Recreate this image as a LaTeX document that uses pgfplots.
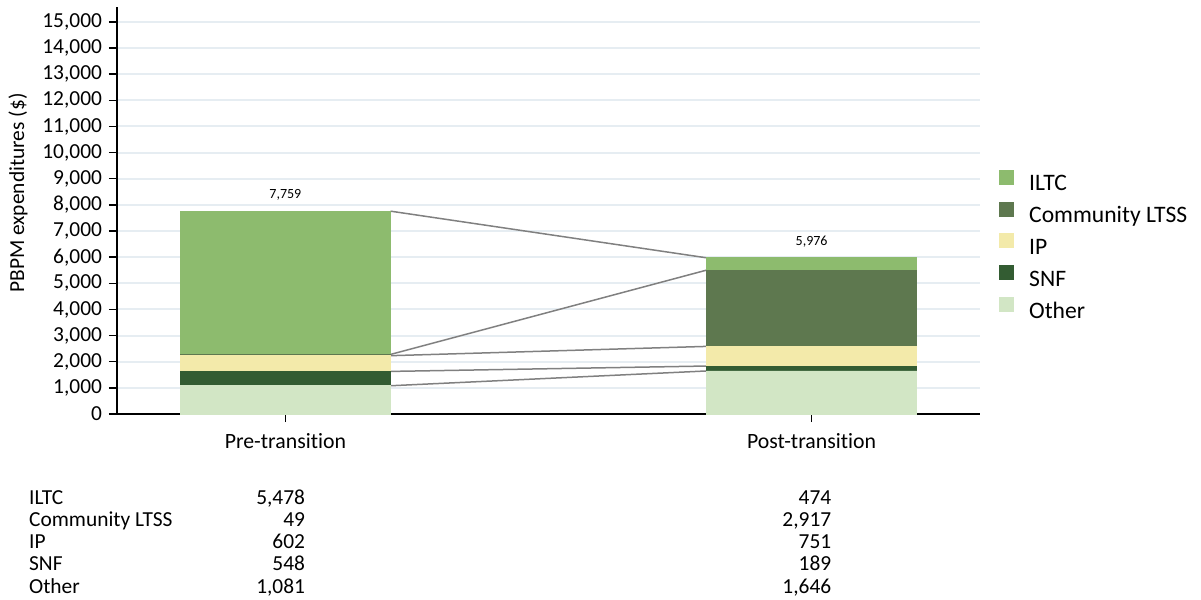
\documentclass[border=0pt]{standalone}
\usepackage{fontspec}
\setmainfont{Carlito}[Ligatures=NoCommon]
\usepackage{pgfplots}
\pgfplotsset{compat=1.18}

\definecolor{iltc}{HTML}{8DBB6E}
\definecolor{cltss}{HTML}{5E784F}
\definecolor{ipc}{HTML}{F3EAAA}
\definecolor{snf}{HTML}{335C32}
\definecolor{other}{HTML}{D2E6C5}
\definecolor{gridc}{HTML}{E6EDF2}
\definecolor{conn}{HTML}{808080}

\newcommand{\tabfont}{\fontsize{10.7}{12}\selectfont}
\tikzset{tablenode/.style={font=\tabfont, inner sep=0pt}}

\begin{document}
\begin{tikzpicture}
\path[use as bounding box] (-58.5pt,-93pt) rectangle (542pt,207pt);
\begin{axis}[
    at={(0,0)}, anchor=south west,
    scale only axis,
    width=431.5pt, height=203.5pt,
    xmin=-0.32, xmax=1.32,
    ymin=0, ymax=15570,
    ybar stacked,
    bar width=0.4,
    clip=false,
    axis lines=left,
    axis line style={-, line width=0.9pt},
    xtick={0,1},
    xticklabels={Pre-transition, Post-transition},
    ytick={0,1000,...,15000},
    scaled y ticks=false,
    tick align=outside,
    major tick length=4pt,
    tick style={black, line width=0.7pt},
    ymajorgrids=true,
    grid style={gridc, line width=1pt},
    /pgf/number format/.cd, 1000 sep={,}, assume math mode=true,
    /pgfplots/.cd,
    y tick label style={font=\tabfont},
    x tick label style={font=\fontsize{10.9}{12}\selectfont, yshift=-2pt},
    ylabel={PBPM expenditures (\$)},
    ylabel style={at={(axis description cs:-0.1147,0.543)}, anchor=center, font=\tabfont},
    legend style={at={(1.022,0.413)}, anchor=west, draw=none, fill=none,
        inner sep=0pt, font=\fontsize{11.8}{13}\selectfont, row sep=3.5pt,
        nodes={inner sep=0pt, text height=8.5pt, text depth=2pt},
        /tikz/every odd column/.style={column sep=7.5pt}},
    legend cell align=left,
    reverse legend,
    legend image code/.code={\fill[#1] (0pt,0pt) rectangle (7pt,7pt);},
]
% stacked segments, bottom to top
\addplot[fill=other, draw=other] coordinates {(0,1081) (1,1646)};
\addplot[fill=snf, draw=snf] coordinates {(0,548) (1,189)};
\addplot[fill=ipc, draw=ipc] coordinates {(0,602) (1,751)};
\addplot[fill=cltss, draw=cltss] coordinates {(0,49) (1,2917)};
\addplot[fill=iltc, draw=iltc] coordinates {(0,5478) (1,474)};
\legend{Other, SNF, IP, Community LTSS, ILTC}

% connectors between segment tops
\addplot[sharp plot, stack plots=false, forget plot, conn, line width=0.75pt, mark=none] coordinates {(0.2,7759) (0.8,5976)};
\addplot[sharp plot, stack plots=false, forget plot, conn, line width=0.75pt, mark=none] coordinates {(0.2,2280) (0.8,5502)};
\addplot[sharp plot, stack plots=false, forget plot, conn, line width=0.75pt, mark=none] coordinates {(0.2,2231) (0.8,2586)};
\addplot[sharp plot, stack plots=false, forget plot, conn, line width=0.75pt, mark=none] coordinates {(0.2,1629) (0.8,1835)};
\addplot[sharp plot, stack plots=false, forget plot, conn, line width=0.75pt, mark=none] coordinates {(0.2,1081) (0.8,1646)};

% totals
\node[font=\fontsize{7}{8}\selectfont, anchor=center, yshift=8pt] at (axis cs:0,7759) {7,759};
\node[font=\fontsize{7}{8}\selectfont, anchor=center, yshift=8pt] at (axis cs:1,5976) {5,976};

% table below the chart
\node[tablenode, anchor=base west] at (axis cs:-0.4877,-3480) {ILTC};
\node[tablenode, anchor=base west] at (axis cs:-0.4877,-4322) {Community LTSS};
\node[tablenode, anchor=base west] at (axis cs:-0.4877,-5164) {IP};
\node[tablenode, anchor=base west] at (axis cs:-0.4877,-6006) {SNF};
\node[tablenode, anchor=base west] at (axis cs:-0.4877,-6848) {Other};

\node[tablenode, anchor=base east] at (axis cs:0.038,-3480) {5,478};
\node[tablenode, anchor=base east] at (axis cs:0.038,-4322) {49};
\node[tablenode, anchor=base east] at (axis cs:0.038,-5164) {602};
\node[tablenode, anchor=base east] at (axis cs:0.038,-6006) {548};
\node[tablenode, anchor=base east] at (axis cs:0.038,-6848) {1,081};

\node[tablenode, anchor=base east] at (axis cs:1.038,-3480) {474};
\node[tablenode, anchor=base east] at (axis cs:1.038,-4322) {2,917};
\node[tablenode, anchor=base east] at (axis cs:1.038,-5164) {751};
\node[tablenode, anchor=base east] at (axis cs:1.038,-6006) {189};
\node[tablenode, anchor=base east] at (axis cs:1.038,-6848) {1,646};
\end{axis}
\end{tikzpicture}
\end{document}
